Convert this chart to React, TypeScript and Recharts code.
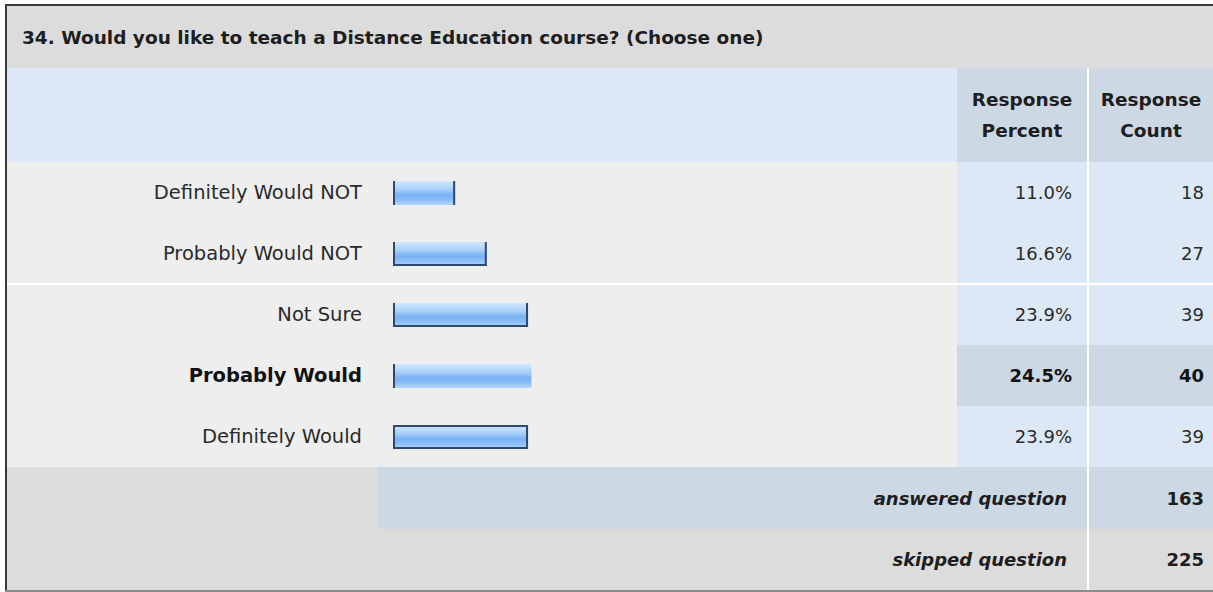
import { BarChart, Bar, XAxis, YAxis } from "recharts";

const title = "34. Would you like to teach a Distance Education course? (Choose one)";
const categories = ["Definitely Would NOT", "Probably Would NOT", "Not Sure", "Probably Would", "Definitely Would"];
const percents = [11.0, 16.6, 23.9, 24.5, 23.9];
const counts = [18, 27, 39, 40, 39];
const highlighted = "Probably Would";
const answered = 163;
const skipped = 225;

// which dark edges each bar image happens to have (l/r/t/b)
const BAR_EDGES = ["lr", "lrb", "lrb", "l", "lrtb"];

const FONT = "'DejaVu Sans', Verdana, sans-serif";
const TEXT = "#2a2a2a";
const TOP = 162;
const ROW_H = 61;
const EDGE = "#2d4a6e";

const rows = categories.map((name, i) => ({ name, pct: percents[i], count: counts[i] }));

function LabelTick(props: any) {
  const { x, y, payload } = props;
  const bold = payload.value === highlighted;
  return (
    <text x={x} y={y} textAnchor="end" dominantBaseline="central"
      fontFamily={FONT} fontSize={19.5} fontWeight={bold ? 700 : 400} fill={bold ? "#111" : TEXT}>
      {payload.value}
    </text>
  );
}

function GlossBar(props: any) {
  const { x, y, width, height, index } = props;
  const e = BAR_EDGES[index] || "";
  return (
    <g>
      <rect x={x} y={y} width={width} height={height} fill="url(#gloss)" />
      {e.includes("l") && <rect x={x} y={y} width={2} height={height} fill={EDGE} />}
      {e.includes("r") && <rect x={x + width - 2} y={y} width={2} height={height} fill={EDGE} />}
      {e.includes("t") && <rect x={x} y={y} width={width} height={2} fill={EDGE} />}
      {e.includes("b") && <rect x={x} y={y + height - 2} width={width} height={2} fill={EDGE} />}
    </g>
  );
}

const box = (left: number, top: number, width: number, height: number, background: string) => (
  <div style={{ position: "absolute", left, top, width, height, background }} />
);

const cell = (left: number, top: number, width: number, height: number, text: any, extra: any = {}) => (
  <div style={{
    position: "absolute", left, top, width, height, display: "flex", alignItems: "center",
    justifyContent: "flex-end", boxSizing: "border-box", fontSize: 18, color: TEXT, ...extra,
  }}>{text}</div>
);

export default function App() {
  return (
    <div style={{ position: "absolute", left: 0, top: 0, width: 1213, height: 592, background: "#fff", overflow: "hidden", fontFamily: FONT }}>
      {box(7, 6, 1206, 62, "#dcdcdc")}
      {box(7, 68, 950, 94, "#dce8f5")}
      {box(957, 68, 130, 94, "#cdd8e5")}
      {box(1089, 68, 124, 94, "#cdd8e5")}
      {box(7, TOP, 950, ROW_H * 5, "#eeeeee")}
      {rows.map((r, i) => {
        const bg = r.name === highlighted ? "#cdd8e5" : "#dce8f5";
        return (
          <div key={r.name}>
            {box(957, TOP + i * ROW_H, 130, ROW_H, bg)}
            {box(1089, TOP + i * ROW_H, 124, ROW_H, bg)}
          </div>
        );
      })}
      {box(7, 467, 371, 62, "#dcdcdc")}
      {box(378, 467, 709, 62, "#cdd8e5")}
      {box(1089, 467, 124, 62, "#cdd8e5")}
      {box(7, 529, 1206, 61, "#dcdcdc")}
      {box(1087, 68, 2, 522, "#ffffff")}
      {box(7, 283, 1206, 2, "#ffffff")}
      {box(5, 4, 1208, 2, "#3a3a3a")}
      {box(5, 4, 2, 588, "#3a3a3a")}
      {box(5, 590, 1208, 2, "#8c8c8c")}

      <div style={{ position: "absolute", left: 22, top: 6, height: 62, display: "flex", alignItems: "center", fontSize: 18.5, fontWeight: 700, color: "#1e1e1e" }}>
        {title}
      </div>
      {[957, 1089].map((left, i) => (
        <div key={left} style={{
          position: "absolute", left, top: 68, width: i ? 124 : 130, height: 94, display: "flex", flexDirection: "column",
          alignItems: "center", justifyContent: "center", fontSize: 18.5, fontWeight: 700, color: "#1e1e1e", lineHeight: "31px",
        }}>
          <div>Response</div>
          <div>{i ? "Count" : "Percent"}</div>
        </div>
      ))}

      <div style={{ position: "absolute", left: 0, top: TOP }}>
        <BarChart width={958} height={ROW_H * 5} data={rows} layout="vertical" margin={{ top: 0, right: 0, bottom: 0, left: 0 }}>
          <defs>
            <linearGradient id="gloss" x1="0" y1="0" x2="0" y2="1">
              <stop offset="0%" stopColor="#d2e8fe" />
              <stop offset="35%" stopColor="#a8cffa" />
              <stop offset="58%" stopColor="#78b1f3" />
              <stop offset="80%" stopColor="#8dc0f6" />
              <stop offset="100%" stopColor="#b3d6fa" />
            </linearGradient>
          </defs>
          <XAxis type="number" domain={[0, 100]} hide />
          <YAxis type="category" dataKey="name" width={393} axisLine={false} tickLine={false}
            tickSize={0} tickMargin={31} tick={<LabelTick />} interval={0} />
          <Bar dataKey="pct" barSize={24} shape={<GlossBar />} isAnimationActive={false} />
        </BarChart>
      </div>

      {rows.map((r, i) => {
        const bold = r.name === highlighted;
        const st = bold ? { fontWeight: 700, color: "#111" } : {};
        return (
          <div key={"t" + r.name}>
            {cell(957, TOP + i * ROW_H, 130, ROW_H, r.pct.toFixed(1) + "%", { paddingRight: 15, ...st })}
            {cell(1089, TOP + i * ROW_H, 124, ROW_H, r.count, { paddingRight: 9, ...st })}
          </div>
        );
      })}
      {cell(378, 467, 709, 62, "answered question", { paddingRight: 20, fontWeight: 700, fontStyle: "italic", color: "#1e1e1e" })}
      {cell(1089, 467, 124, 62, answered, { paddingRight: 9, fontWeight: 700, color: "#1e1e1e" })}
      {cell(378, 529, 709, 61, "skipped question", { paddingRight: 20, fontWeight: 700, fontStyle: "italic", color: "#1e1e1e" })}
      {cell(1089, 529, 124, 61, skipped, { paddingRight: 9, fontWeight: 700, color: "#1e1e1e" })}
    </div>
  );
}
